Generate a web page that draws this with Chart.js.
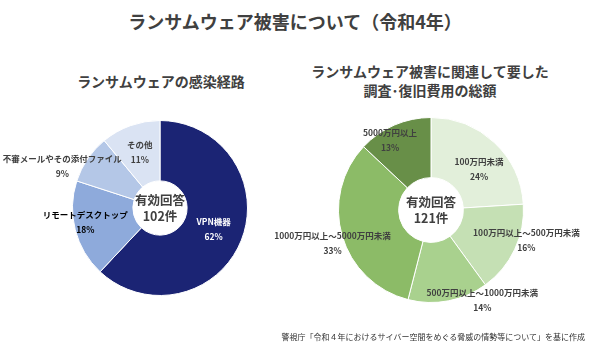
<!DOCTYPE html>
<html lang="ja">
<head>
<meta charset="utf-8">
<script src="https://cdn.jsdelivr.net/npm/chart.js@4/dist/chart.umd.min.js"></script>
<style>
    body { margin: 0; background: #fff; font-family: "Noto Sans CJK JP", sans-serif; color: #404040; }
    .wrap { position: relative; width: 590px; height: 351px; overflow: hidden; }
    canvas { position: absolute; top: 0; }
    .title { position: absolute; top: 8px; left: 0; width: 590px; text-align: center; font-size: 18px; font-weight: bold; }
    .sub { position: absolute; text-align: center; font-size: 14px; font-weight: bold; line-height: 19px; }
    .source { position: absolute; right: 5px; top: 331px; font-size: 8px; color: #333; white-space: nowrap; }
</style>
</head>
<body>
<div class="wrap">
    <div class="title">ランサムウェア被害について（令和4年）</div>
    <div class="sub" style="left:60px;width:202px;top:72px;">ランサムウェアの感染経路</div>
    <div class="sub" style="left:300px;width:260px;top:62px;">ランサムウェア被害に関連して要した<br>調査･復旧費用の総額</div>
    <canvas id="routeChart" width="295" height="351" style="left:0"></canvas>
    <canvas id="costChart" width="350" height="351" style="left:240px"></canvas>
    <div class="source">警視庁「令和４年におけるサイバー空間をめぐる脅威の情勢等について」を基に作成</div>
</div>
<script>
    // 感染経路
    const routeLabels = ['VPN機器', 'リモートデスクトップ', '不審メールやその添付ファイル', 'その他'];
    const routeValues = [62, 18, 9, 11];
    const routeTotal = '102件';

    // 調査・復旧費用
    const costLabels = ['100万円未満', '100万円以上～500万円未満', '500万円以上～1000万円未満', '1000万円以上～5000万円未満', '5000万円以上'];
    const costValues = [24, 16, 14, 33, 13];
    const costTotal = '121件';

    const routeColors = ['#1b2474', '#8eaadb', '#b4c7e7', '#dae3f3'];
    const costColors = ['#e2efda', '#c5e0b4', '#a9d18e', '#8cbb67', '#688f48'];

    // label placement: radius factor along the mid-angle, then small nudge
    const routeLabelStyle = [
        { r: 0.66, dx: 0, dy: 0, color: '#fff' },
        { r: 0.87, dx: -1, dy: -5, color: '#000' },
        { r: 1.24, dx: -8, dy: 19, color: '#404040' },
        { r: 0.68, dx: 0, dy: 0, color: '#404040' }
    ];
    const costLabelStyle = [
        { r: 0.68, dx: 5, dy: 5, color: '#404040' },
        { r: 1.08, dx: 5, dy: -13, color: '#404040' },
        { r: 1.11, dx: 32, dy: -11, color: '#404040' },
        { r: 1.12, dx: 1, dy: 4, color: '#404040' },
        { r: 0.87, dx: -9, dy: 4, color: '#404040' }
    ];

    const sliceLabels = {
        id: 'sliceLabels',
        afterDatasetsDraw(chart, args, opts) {
            const ctx = chart.ctx;
            const meta = chart.getDatasetMeta(0);
            const values = chart.data.datasets[0].data;
            ctx.save();
            ctx.textAlign = 'center';
            ctx.textBaseline = 'middle';
            ctx.font = 'bold 8.5px "Noto Sans CJK JP"';
            meta.data.forEach((arc, i) => {
                const st = opts.style[i];
                const mid = (arc.startAngle + arc.endAngle) / 2;
                const x = arc.x + Math.cos(mid) * arc.outerRadius * st.r + st.dx;
                const y = arc.y + Math.sin(mid) * arc.outerRadius * st.r + st.dy;
                ctx.fillStyle = st.color;
                ctx.fillText(chart.data.labels[i], x, y - 7);
                ctx.fillText(values[i] + '%', x, y + 8);
            });
            // center text
            const a = meta.data[0];
            ctx.fillStyle = '#404040';
            ctx.font = 'bold 12.5px "Noto Sans CJK JP"';
            ctx.fillText('有効回答', a.x, a.y - 8);
            ctx.fillText(opts.total, a.x, a.y + 8);
            ctx.restore();
        }
    };

    function makeDonut(id, labels, values, colors, cutout, padding, style, total) {
        return new Chart(document.getElementById(id).getContext('2d'), {
            type: 'doughnut',
            data: {
                labels: labels,
                datasets: [{
                    data: values,
                    backgroundColor: colors,
                    borderColor: '#fff',
                    borderWidth: 1
                }]
            },
            options: {
                responsive: false,
                animation: false,
                cutout: cutout,
                layout: { padding: padding },
                plugins: {
                    legend: { display: false },
                    tooltip: { enabled: false },
                    sliceLabels: { style: style, total: total }
                }
            },
            plugins: [sliceLabels]
        });
    }

    makeDonut('routeChart', routeLabels, routeValues, routeColors, '31%',
        { left: 72, right: 47, top: 120, bottom: 55 }, routeLabelStyle, routeTotal);
    makeDonut('costChart', costLabels, costValues, costColors, '35%',
        { left: 98, right: 66, top: 117, bottom: 48 }, costLabelStyle, costTotal);
</script>
</body>
</html>
